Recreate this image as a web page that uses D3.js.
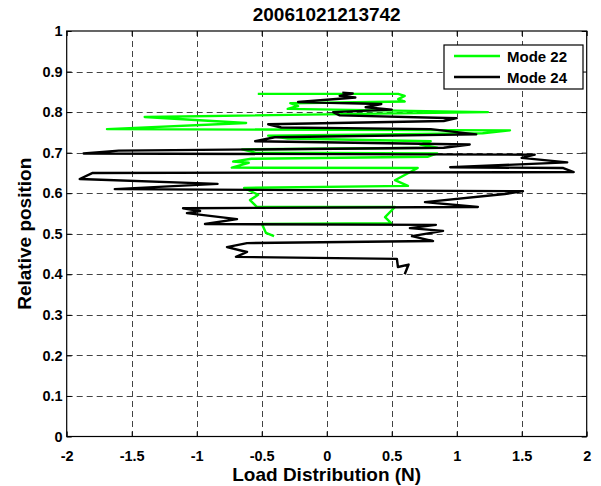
<!DOCTYPE html>
<html>
<head>
<meta charset="utf-8">
<script src="https://cdn.jsdelivr.net/npm/d3@7"></script>
<style>
  body { margin: 0; background: #fff; }
  text { font-family: "Liberation Sans", Arial, sans-serif; font-weight: bold; fill: #000; }
</style>
</head>
<body>
<svg id="chart"></svg>
<script>
const title = "20061021213742";
const xTicks = [-2, -1.5, -1, -0.5, 0, 0.5, 1, 1.5, 2];
const yTicks = [0, 0.1, 0.2, 0.3, 0.4, 0.5, 0.6, 0.7, 0.8, 0.9, 1];
const seriesNames = ["Mode 22", "Mode 24"];
const seriesColors = ["#00ff00", "#000000"];

// [load, relative position]
const mode22 = [
  [-0.53, 0.845], [0.55, 0.845], [0.6, 0.84], [0.55, 0.832], [0.6, 0.826],
  [-0.28, 0.822], [-0.22, 0.815], [-0.3, 0.808], [1.24, 0.8],
  [-1.4, 0.788], [-0.62, 0.773], [-1.69, 0.758], [1.41, 0.755],
  [1.2, 0.748], [-0.45, 0.742], [-0.3, 0.735], [0.8, 0.728], [0.72, 0.72],
  [0.85, 0.712], [-0.65, 0.708], [-0.55, 0.7], [0.85, 0.698], [0.78, 0.69],
  [-0.58, 0.685], [-0.72, 0.678], [-0.6, 0.675], [-0.73, 0.663],
  [0.7, 0.662], [0.525, 0.632], [0.625, 0.618], [-0.635, 0.613],
  [-0.527, 0.596], [-0.59, 0.583], [-0.536, 0.566], [0.525, 0.566],
  [0.449, 0.541], [0.495, 0.526], [-0.498, 0.524], [-0.467, 0.502], [-0.405, 0.494]
];

const mode24 = [
  [0.12, 0.848], [0.2, 0.846], [0.1, 0.84], [0.22, 0.836], [-0.22, 0.825],
  [0.42, 0.82], [0.3, 0.812], [0.5, 0.806], [0.05, 0.8], [0.1, 0.792],
  [1.0, 0.785], [0.9, 0.778], [-0.45, 0.77], [-0.35, 0.762], [0.8, 0.758],
  [1.15, 0.745], [-0.4, 0.738], [-0.55, 0.728], [1.1, 0.72], [0.9, 0.712],
  [-1.6, 0.705], [-1.87, 0.698], [1.6, 0.695], [1.5, 0.687], [1.85, 0.676],
  [0.95, 0.664], [1.82, 0.662], [1.9, 0.652], [-1.8, 0.65], [-1.9, 0.635],
  [-0.84, 0.623], [-1.63, 0.61], [1.51, 0.605], [1.37, 0.598], [0.756, 0.578],
  [1.163, 0.566], [-1.105, 0.563], [-0.974, 0.556], [-1.075, 0.551],
  [-0.69, 0.536], [-0.936, 0.524], [0.84, 0.522], [0.64, 0.514], [0.895, 0.507],
  [0.656, 0.494], [0.818, 0.482], [-0.613, 0.477], [-0.767, 0.467],
  [-0.613, 0.455], [-0.698, 0.443], [0.54, 0.438], [0.548, 0.418],
  [0.63, 0.424], [0.6, 0.4]
];

const width = 601, height = 486;
const margin = { top: 31, right: 14.3, bottom: 49.5, left: 66.7 };

const svg = d3.select("#chart").attr("width", width).attr("height", height);
svg.append("rect").attr("width", width).attr("height", height).attr("fill", "#fff");

const x = d3.scaleLinear().domain([-2, 2]).range([margin.left, width - margin.right]);
const y = d3.scaleLinear().domain([0, 1]).range([height - margin.bottom, margin.top]);

const x0 = x.range()[0], x1 = x.range()[1], y0 = y.range()[0], y1 = y.range()[1];

// grid
const grid = svg.append("g").attr("stroke", "#444").attr("stroke-width", 1)
  .attr("stroke-dasharray", "6,4").attr("fill", "none");
grid.selectAll("line.v").data(xTicks.slice(1, -1)).join("line")
  .attr("x1", d => Math.round(x(d)) + 0.5).attr("x2", d => Math.round(x(d)) + 0.5)
  .attr("y1", y1).attr("y2", y0);
grid.selectAll("line.h").data(yTicks.slice(1, -1)).join("line")
  .attr("y1", d => Math.round(y(d)) + 0.5).attr("y2", d => Math.round(y(d)) + 0.5)
  .attr("x1", x0).attr("x2", x1);

// axes (MATLAB style: ticks inside, box on)
const fmt = d => String(d);
const tickLen = 5;
svg.append("g").attr("transform", `translate(0,${y0})`)
  .call(d3.axisBottom(x).tickValues(xTicks).tickFormat(fmt).tickSizeInner(-tickLen).tickSizeOuter(0).tickPadding(14))
  .call(g => g.select(".domain").remove());
svg.append("g").attr("transform", `translate(0,${y1})`)
  .call(d3.axisTop(x).tickValues(xTicks).tickFormat("").tickSizeInner(-tickLen).tickSizeOuter(0))
  .call(g => g.select(".domain").remove());
svg.append("g").attr("transform", `translate(${x0},0)`)
  .call(d3.axisLeft(y).tickValues(yTicks).tickFormat(fmt).tickSizeInner(-tickLen).tickSizeOuter(0).tickPadding(4))
  .call(g => g.select(".domain").remove());
svg.append("g").attr("transform", `translate(${x1},0)`)
  .call(d3.axisRight(y).tickValues(yTicks).tickFormat("").tickSizeInner(-tickLen).tickSizeOuter(0))
  .call(g => g.select(".domain").remove());

svg.selectAll(".tick text").style("font-size", "14.5px").style("font-family", "'Liberation Sans', Arial, sans-serif").style("font-weight", "bold");
svg.selectAll(".tick line").attr("stroke", "#000");

svg.append("rect").attr("x", x0).attr("y", y1).attr("width", x1 - x0).attr("height", y0 - y1)
  .attr("fill", "none").attr("stroke", "#000").attr("stroke-width", 1.2);

// data lines
const line = d3.line().x(d => x(d[0])).y(d => y(d[1]));
[mode22, mode24].forEach((s, i) => {
  svg.append("path").datum(s).attr("d", line)
    .attr("fill", "none").attr("stroke", seriesColors[i]).attr("stroke-width", 2.4)
    .attr("stroke-linejoin", "round");
});

// title and labels
svg.append("text").attr("x", (x0 + x1) / 2).attr("y", 21).attr("text-anchor", "middle")
  .style("font-size", "19px").text(title);
svg.append("text").attr("x", (x0 + x1) / 2).attr("y", 481).attr("text-anchor", "middle")
  .style("font-size", "19px").text("Load Distribution (N)");
svg.append("text").attr("transform", `translate(31,${(y0 + y1) / 2}) rotate(-90)`)
  .attr("text-anchor", "middle").style("font-size", "19px").text("Relative position");

// legend
const lg = svg.append("g").attr("transform", "translate(444,45)");
lg.append("rect").attr("width", 139).attr("height", 44).attr("fill", "#fff").attr("stroke", "#000").attr("stroke-width", 1.2);
seriesNames.forEach((n, i) => {
  const yy = 11 + i * 21;
  lg.append("line").attr("x1", 10).attr("x2", 56).attr("y1", yy).attr("y2", yy)
    .attr("stroke", seriesColors[i]).attr("stroke-width", 2.4);
  lg.append("text").attr("x", 63).attr("y", yy + 5.5).style("font-size", "15px").text(n);
});
</script>
</body>
</html>
